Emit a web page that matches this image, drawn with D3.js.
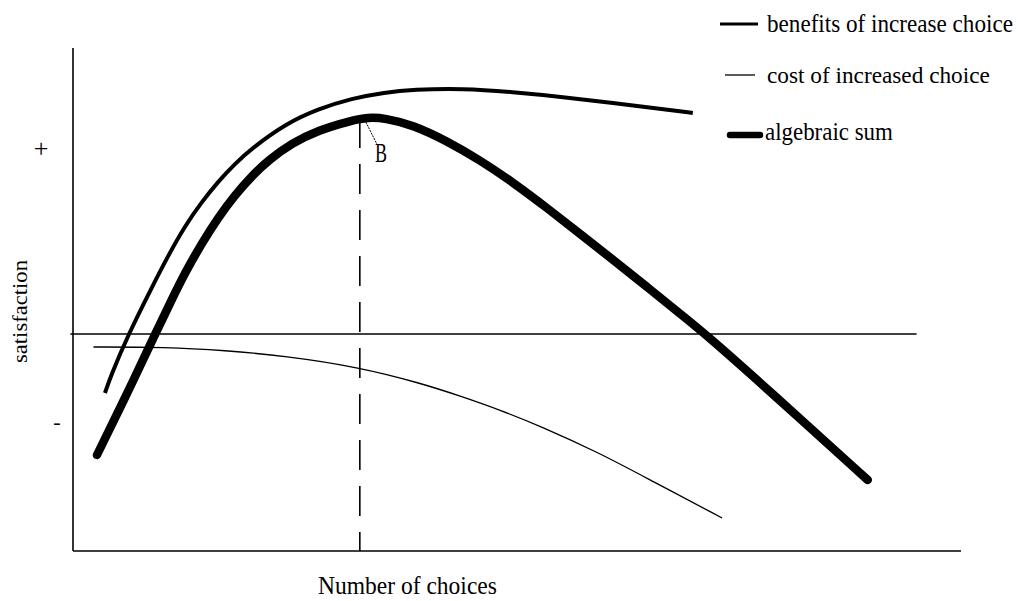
<!DOCTYPE html>
<html>
<head>
<meta charset="utf-8">
<script src="https://cdn.jsdelivr.net/npm/d3@7"></script>
<style>
  html, body { margin: 0; padding: 0; background: #fff; }
  svg { display: block; }
  text { font-family: "Liberation Serif", "Times New Roman", serif; fill: #000; }
</style>
</head>
<body>
<svg id="chart" width="1018" height="601"></svg>
<script>
// ---- data (x: number of choices, arbitrary units; y: satisfaction, arbitrary units) ----
const benefitsX = [0.36, 0.42, 0.62, 0.89, 1.07, 1.26, 1.45, 1.63, 1.82, 2.02, 2.39, 2.76, 3.14, 3.51, 3.83, 4.39, 4.95, 5.52, 6.08, 6.64, 6.98];
const benefitsY = [-2.95, -2.15, -0.05, 2.35, 3.90, 5.40, 6.60, 7.60, 8.50, 9.30, 10.50, 11.25, 11.78, 12.08, 12.22, 12.28, 12.10, 11.85, 11.55, 11.25, 11.05];

const costX = [0.23, 1.04, 1.71, 2.39, 3.21, 3.91, 4.36, 4.81, 5.26, 5.93, 6.50, 7.31];
const costY = [-0.65, -0.65, -0.82, -1.10, -1.65, -2.45, -3.10, -3.80, -4.60, -5.95, -7.30, -9.20];

const sumX = [0.27, 0.70, 0.92, 1.11, 1.26, 1.45, 1.63, 1.82, 2.02, 2.20, 2.47, 2.76, 3.14, 3.32, 3.51, 3.83, 4.21, 4.58, 4.95, 5.34, 5.71, 6.08, 6.46, 6.84, 7.12, 7.82, 8.95];
const sumY = [-6.05, -2.15, -0.05, 1.70, 3.05, 4.53, 5.79, 6.93, 7.93, 8.69, 9.55, 10.19, 10.68, 10.83, 10.80, 10.45, 9.65, 8.70, 7.60, 6.30, 5.00, 3.72, 2.37, 1.00, 0.00, -2.75, -7.30];

const legendLabels = ["benefits of increase choice", "cost of increased choice", "algebraic sum"];
const xAxisTitle = "Number of choices";
const yAxisTitle = "satisfaction";
const yTickLabels = ["+", "-"];
const yTickValues = [9.3, -4.45];
const optimumX = [3.23];
const pointLabel = ["B"];

// ---- scales ----
const svg = d3.select("#chart");
const x = d3.scaleLinear().domain([0, 10]).range([73, 961]);
const y = d3.scaleLinear().domain([-10.85, 14.2]).range([551, 50]);

const line = d3.line().x(d => x(d[0])).y(d => y(d[1])).curve(d3.curveBasis);
const zip = (a, b) => a.map((v, i) => [v, b[i]]);

// helper: place text at (tx,ty) with given font size, horizontally scaled to a target width
function fitText(str, tx, ty, size, width, rotate) {
  const t = svg.append("text").attr("font-size", size).text(str);
  const natural = t.node().getComputedTextLength();
  const sx = width / natural;
  t.attr("transform", `translate(${tx},${ty})` + (rotate ? ` rotate(${rotate})` : "") + ` scale(${sx},1)`);
  return t;
}

// ---- axes ----
svg.append("line").attr("x1", x(0)).attr("x2", x(0)).attr("y1", 48).attr("y2", y.range()[0])
  .attr("stroke", "#000").attr("stroke-width", 1.6);
svg.append("line").attr("x1", x(0)).attr("x2", x(10)).attr("y1", y(-10.85)).attr("y2", y(-10.85))
  .attr("stroke", "#000").attr("stroke-width", 1.6);
// zero line
svg.append("line").attr("x1", x(-0.03)).attr("x2", x(9.5)).attr("y1", y(0)).attr("y2", y(0))
  .attr("stroke", "#000").attr("stroke-width", 1.4);

// dashed optimum line
svg.append("line").attr("x1", x(optimumX[0])).attr("x2", x(optimumX[0]))
  .attr("y1", y(10.8)).attr("y2", y(-10.85))
  .attr("stroke", "#000").attr("stroke-width", 1.6).attr("stroke-dasharray", "30,16");

// ---- curves ----
svg.append("path").attr("d", line(zip(costX, costY)))
  .attr("fill", "none").attr("stroke", "#000").attr("stroke-width", 1.3);
svg.append("path").attr("d", line(zip(benefitsX, benefitsY)))
  .attr("fill", "none").attr("stroke", "#000").attr("stroke-width", 4).attr("stroke-linecap", "butt");
svg.append("path").attr("d", line(zip(sumX, sumY)))
  .attr("fill", "none").attr("stroke", "#000").attr("stroke-width", 8.5).attr("stroke-linecap", "round");

// B label and leader
svg.append("line").attr("x1", x(optimumX[0]) + 6).attr("y1", y(10.6)).attr("x2", x(optimumX[0]) + 17).attr("y2", y(9.5))
  .attr("stroke", "#000").attr("stroke-width", 1).attr("stroke-dasharray", "2,1");
fitText(pointLabel[0], 375, 162, 28, 12);

// y tick labels
svg.selectAll(".ytick").data(yTickLabels).enter().append("text")
  .attr("class", "ytick")
  .attr("x", (d, i) => i === 0 ? 41 : 57)
  .attr("y", (d, i) => y(yTickValues[i]) + (i === 0 ? 9 : 6))
  .attr("text-anchor", "middle").attr("font-size", (d, i) => i === 0 ? 26 : 22).text(d => d);

// axis titles
fitText(xAxisTitle, 318, 594, 25, 179);
fitText(yAxisTitle, 27, 363, 21, 103, -90);

// ---- legend ----
const legY = [24, 75, 135];
const legLine = [[720, 758, 3, "butt"], [725, 755, 1.3, "butt"], [730, 760, 6.5, "round"]];
const legText = [[767, 32, 25, 246], [767, 83, 23, 223], [765, 140, 25, 128]];
legendLabels.forEach((lab, i) => {
  svg.append("line").attr("x1", legLine[i][0]).attr("x2", legLine[i][1])
    .attr("y1", legY[i]).attr("y2", legY[i])
    .attr("stroke", "#000").attr("stroke-width", legLine[i][2]).attr("stroke-linecap", legLine[i][3]);
  fitText(lab, legText[i][0], legText[i][1], legText[i][2], legText[i][3]);
});
</script>
</body>
</html>
